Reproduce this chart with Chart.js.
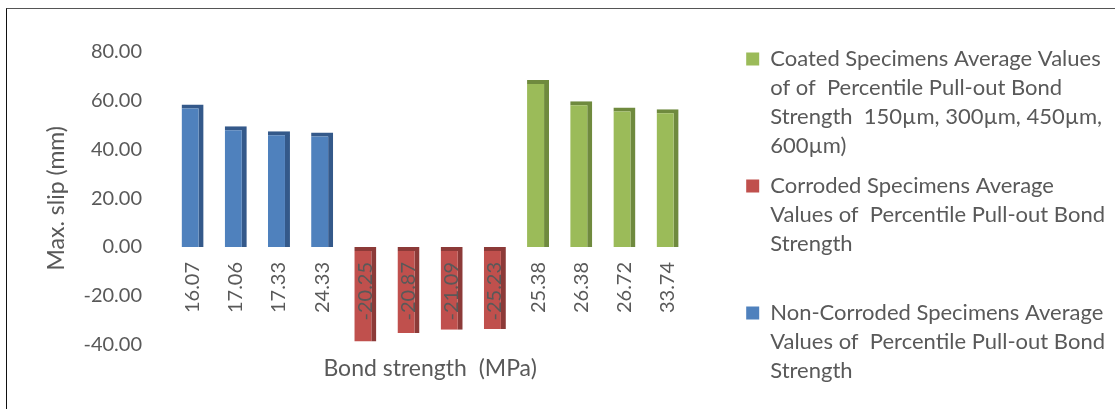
<!DOCTYPE html>
<html>
<head>
<meta charset="utf-8">
<script src="https://cdn.jsdelivr.net/npm/chart.js@4/dist/chart.umd.min.js"></script>
<style>
  body { margin: 0; background: #fff; }
  #wrap { position: relative; width: 1115px; height: 409px; }
  #frame { position: absolute; left: 6px; top: 8px; right: 0; bottom: 0;
           border-left: 1px solid #111; border-top: 1px solid #555; pointer-events: none; }
</style>
</head>
<body>
<div id="wrap">
  <canvas id="slipChart"></canvas>
  <div id="frame"></div>
</div>
<script>
// bond strength (MPa) categories along the x axis
var categories = ['16.07', '17.06', '17.33', '24.33', '-20.25', '-20.87', '-21.09', '-25.23', '25.38', '26.38', '26.72', '33.74'];

// max. slip (mm) per series
var nonCorroded = [58.5, 49.5, 47.5, 47, null, null, null, null, null, null, null, null];
var corroded    = [null, null, null, null, -38.8, -35.3, -34, -33.7, null, null, null, null];
var coated      = [null, null, null, null, null, null, null, null, 68.5, 59.8, 57.2, 56.5];

var yTicks = { min: -40, max: 80, step: 20 };

var nonCorrodedLegend = ['Non-Corroded Specimens Average', 'Values of  Percentile Pull-out Bond', 'Strength'];
var corrodedLegend = ['Corroded Specimens Average', 'Values of  Percentile Pull-out Bond', 'Strength', ''];
var coatedLegend = ['Coated Specimens Average Values', 'of of  Percentile Pull-out Bond', 'Strength  150\u00b5m, 300\u00b5m, 450\u00b5m,', '600\u00b5m)'];

var legendLines = [nonCorrodedLegend, corrodedLegend, coatedLegend];

var textColor = '#595959';
var font = { family: 'Lato', size: 20 };
var titleFont = { family: 'Lato', size: 23 };

function barSet(label, data, front, side) {
    return {
        label: label,
        data: data,
        backgroundColor: front,
        borderColor: side,
        borderWidth: { top: 4, right: 5, bottom: 0, left: 0 },
        borderSkipped: false,
        grouped: false,
        barPercentage: 0.51,
        categoryPercentage: 1
    };
}

new Chart(document.getElementById('slipChart'), {
    type: 'bar',
    data: {
        labels: categories,
        datasets: [
            barSet('Non-Corroded Specimens Average Values of Percentile Pull-out Bond Strength', nonCorroded, '#4F81BD', '#34598A'),
            barSet('Corroded Specimens Average Values of Percentile Pull-out Bond Strength', corroded, '#C0504D', '#8C3A38'),
            barSet('Coated Specimens Average Values of of Percentile Pull-out Bond Strength', coated, '#9BBB59', '#6F8A3E')
        ]
    },
    options: {
        responsive: true,
        maintainAspectRatio: false,
        animation: false,
        layout: { padding: { top: 37, left: 40, right: 0, bottom: 0 } },
        plugins: {
            tooltip: { enabled: false },
            legend: {
                position: 'right',
                align: 'start',
                reverse: true,
                maxWidth: 420,
                labels: {
                    boxWidth: 13,
                    boxHeight: 13,
                    padding: 11,
                    color: textColor,
                    font: { family: 'Lato', size: 22, lineHeight: '29px' },
                    generateLabels: function (chart) {
                        var items = Chart.defaults.plugins.legend.labels.generateLabels(chart);
                        items.forEach(function (it) {
                            it.lineWidth = 0;
                            it.text = legendLines[it.datasetIndex];
                        });
                        return items;
                    }
                }
            }
        },
        scales: {
            x: {
                position: { y: 0 },
                grid: { display: false, drawTicks: false },
                border: { display: false },
                ticks: {
                    z: 1,
                    color: textColor,
                    font: font,
                    minRotation: 90,
                    maxRotation: 90,
                    autoSkip: false,
                    padding: 15
                }
            },
            xb: {
                type: 'category',
                position: 'bottom',
                grid: { display: false, drawTicks: false },
                border: { display: false },
                ticks: { display: false },
                title: {
                    display: true,
                    text: 'Bond strength  (MPa)',
                    color: textColor,
                    font: titleFont,
                    padding: { top: 10, bottom: 27 }
                }
            },
            xt: {
                type: 'category',
                position: 'top',
                grid: { display: false, drawTicks: false },
                border: { display: false },
                ticks: { display: false },
                afterFit: function (scale) { scale.height = 15; }
            },
            y: {
                min: yTicks.min,
                max: yTicks.max,
                grid: { display: false, drawTicks: false },
                border: { display: false },
                ticks: {
                    stepSize: yTicks.step,
                    color: textColor,
                    font: font,
                    padding: 29,
                    callback: function (v) { return v.toFixed(2); }
                },
                title: {
                    display: true,
                    text: 'Max. slip (mm)',
                    color: textColor,
                    font: titleFont,
                    padding: { top: 3, bottom: 0 }
                },
                afterFit: function (scale) { scale.width = 131; }
            },
            yr: {
                type: 'linear',
                position: 'right',
                grid: { display: false, drawTicks: false },
                border: { display: false },
                ticks: { display: false },
                afterFit: function (scale) { scale.width = 46; }
            }
        }
    }
});
</script>
</body>
</html>
